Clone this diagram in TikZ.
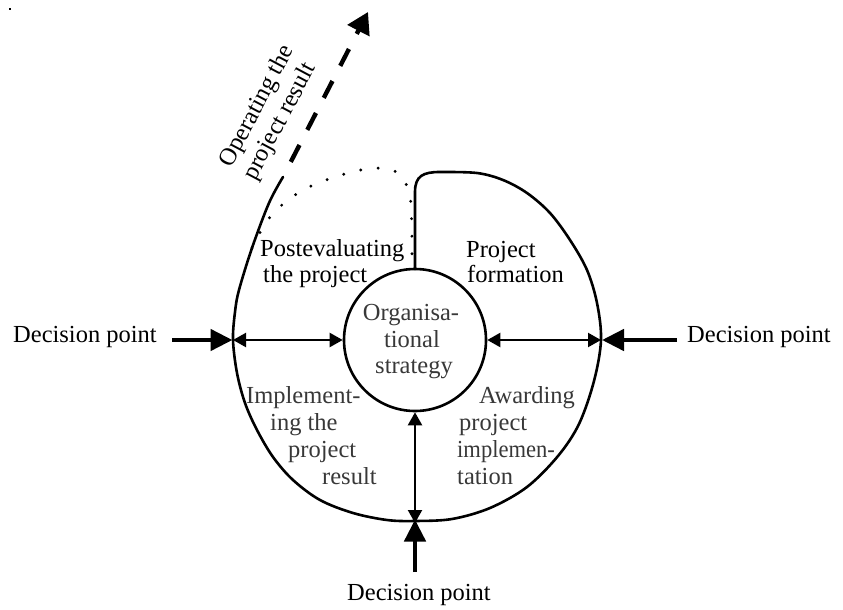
\documentclass[tikz,border=0pt]{standalone}
\usepackage{fontspec}
\setmainfont{Liberation Serif}
\usetikzlibrary{arrows.meta}
\begin{document}
\begin{tikzpicture}[x=1pt,y=-1pt,
  lbl/.style={font=\fontsize{24.5}{27.5}\selectfont, inner sep=0pt},
  soft/.style={text=black!78},
  ring/.style={line width=2.6pt, line cap=round, line join=round},
  link/.style={line width=2.2pt,
    {Triangle[length=13pt,width=14pt]}-{Triangle[length=13pt,width=14pt]}},
  decide/.style={line width=4.6pt, -{Triangle[length=22pt,width=21pt]}},
  leave/.style={line width=4.4pt, dash pattern=on 19pt off 17pt, dash phase=19pt,
    -{Triangle[length=21pt,width=24pt]}},
  trail/.style={line width=3.2pt, line cap=round, dash pattern=on 0pt off 17.5pt},
]
\useasboundingbox (0,0) rectangle (843,610);
\fill (9,8) rectangle (11,10);

% core: organisational strategy
\node[circle, draw, line width=2.6pt, minimum size=142pt, inner sep=0pt] (org) at (415,340) {};
\node[lbl, soft, anchor=base] (org1) at (411,320) {Organisa-};
\node[lbl, soft, anchor=base] (org2) at (412,347) {tional};
\node[lbl, soft, anchor=base] (org3) at (414,373) {strategy};

% spiral of the project life cycle
\draw[ring] (415,269) -- (415,192) .. controls (415,176) and (423,172) .. (440,172)
  -- plot[smooth, tension=0.55] coordinates {(440,172) (477,173) (503,180) (527,193)
     (550,213) (570,240) (587,270) (597,303) (601,340) (594,381) (579,424) (558,456)
     (527,487) (490,508) (452,519) (415,521) (387,520) (353,513) (320,500) (293,480)
     (273,457) (257,430) (245,403) (237,373) (233,340) (235,312) (239,290) (252,248)
     (269,203) (283,177)};

% dotted closing turn of the spiral
\draw[trail] plot[smooth, tension=0.6] coordinates {(252,248) (270,217) (298,193)
  (332,178) (367,169) (392,170) (405,182) (411,205) (412,268)};

% points on the outer turn
\coordinate (outL) at (233,340);
\coordinate (outR) at (601,340);
\coordinate (outB) at (415,521);
\coordinate (tailL) at (172,340);
\coordinate (tailR) at (677,340);
\coordinate (tailB) at (415,572);
\coordinate (spiralEnd) at (283,177);
\coordinate (exitTip) at (368,12);

% links between the core and the outer turn
\draw[link] (outL) -- (org.west);
\draw[link] (org.east) -- (outR);
\draw[link] (org.south) -- ([yshift=-2pt]outB);

% decision points
\node[lbl, anchor=base west] (dpL) at (13,342) {Decision point};
\node[lbl, anchor=base west] (dpR) at (687,342) {Decision point};
\node[lbl, anchor=base] (dpB) at (419,600) {Decision point};
\draw[decide] (tailL) -- ([xshift=-0.5pt]outL);
\draw[decide] (tailR) -- ([xshift=1pt]outR);
\draw[decide] (tailB) -- ([yshift=1.5pt]outB);

% leaving the cycle
\draw[leave] (spiralEnd) -- (exitTip);
\node[lbl, rotate=62, align=left] (op) at (269.5,113) {Operating the\\project result};

% phase labels
\node[lbl, anchor=base west] (post1) at (260,256) {Postevaluating};
\node[lbl, anchor=base west] (post2) at (263,282) {the project};
\node[lbl, anchor=base west] (form1) at (466,257) {Project};
\node[lbl, anchor=base west] (form2) at (467,282) {formation};
\node[lbl, soft, anchor=base west] (impl1) at (246,403) {Implement-};
\node[lbl, soft, anchor=base west] (impl2) at (270,430) {ing the};
\node[lbl, soft, anchor=base west] (impl3) at (288,457) {project};
\node[lbl, soft, anchor=base west] (impl4) at (322,484) {result};
\node[lbl, soft, anchor=base west] (award1) at (479,403) {Awarding};
\node[lbl, soft, anchor=base west] (award2) at (459,430) {project};
\node[lbl, soft, anchor=base west] (award3) at (457,457) {\scalebox{0.92}[1]{implemen-}};
\node[lbl, soft, anchor=base west] (award4) at (457,484) {tation};
\end{tikzpicture}
\end{document}
